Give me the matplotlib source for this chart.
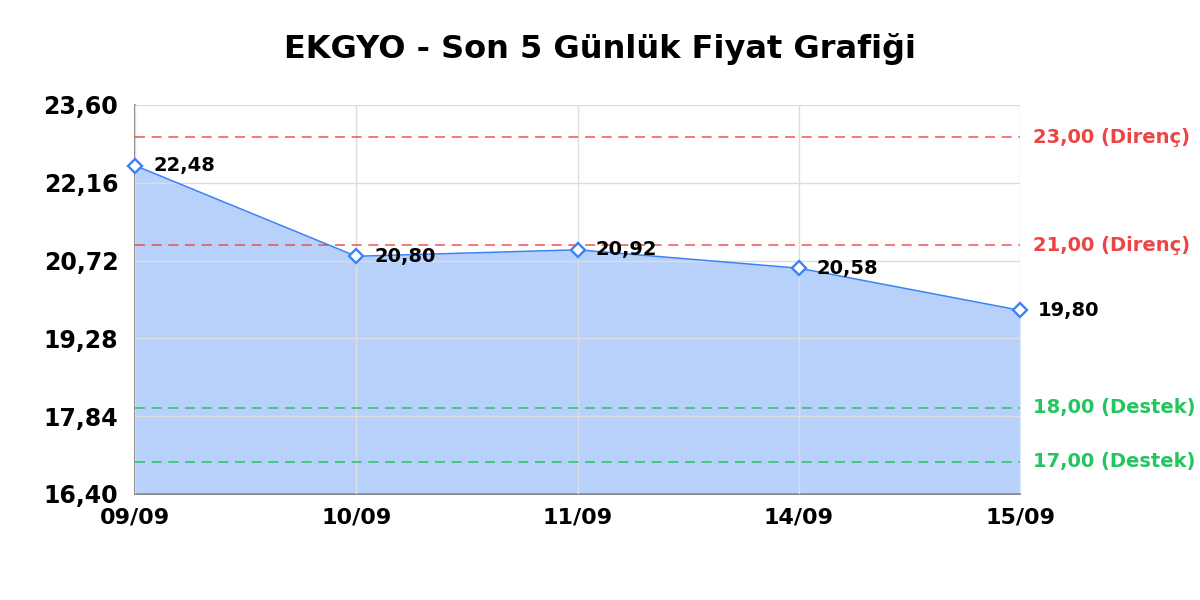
import matplotlib.pyplot as plt

plt.rcParams["font.family"] = ["DejaVu Sans"]

# Chart data
dates = ["09/09", "10/09", "11/09", "14/09", "15/09"]
prices = [22.48, 20.80, 20.92, 20.58, 19.80]
resistance = [23.00, 21.00]
support = [18.00, 17.00]
y_ticks = [16.40, 17.84, 19.28, 20.72, 22.16, 23.60]


def fmt(v):
    return f"{v:.2f}".replace(".", ",")


fig = plt.figure(figsize=(12, 6), dpi=100)
ax = fig.add_axes([0.1125, 0.1767, 0.7375, 0.6483])

x = list(range(len(dates)))
ax.fill_between(x, prices, y_ticks[0], color="#3b82f6", alpha=0.36, linewidth=0, zorder=1)
ax.plot(x, prices, color="#3b82f6", linewidth=1.1, marker="D", markersize=7,
        markerfacecolor="white", markeredgecolor="#3b82f6", markeredgewidth=1.7,
        zorder=4, clip_on=False)

for xi, p in zip(x, prices):
    ax.annotate(fmt(p), (xi, p), xytext=(13, 0), textcoords="offset points",
                va="center", ha="left", fontsize=14, fontweight="bold", zorder=5)

for r in resistance:
    ax.axhline(r, color="#ef4444", linestyle=(0, (6, 4)), linewidth=1.2, alpha=0.85, zorder=3)
    ax.text(1.015, r, f"{fmt(r)} (Direnç)", transform=ax.get_yaxis_transform(),
            color="#ef4444", fontsize=14, fontweight="bold", va="center", ha="left")
for s in support:
    ax.axhline(s, color="#22c55e", linestyle=(0, (6, 4)), linewidth=1.2, alpha=0.9, zorder=3)
    ax.text(1.015, s, f"{fmt(s)} (Destek)", transform=ax.get_yaxis_transform(),
            color="#22c55e", fontsize=14, fontweight="bold", va="center", ha="left")

ax.set_xlim(0, len(dates) - 1)
ax.set_ylim(y_ticks[0], y_ticks[-1])
ax.set_xticks(x)
ax.set_xticklabels(dates, fontsize=16, fontweight="bold")
ax.set_yticks(y_ticks)
ax.set_yticklabels([fmt(t) for t in y_ticks], fontsize=17, fontweight="bold")
ax.tick_params(axis="y", length=0, pad=12)
ax.tick_params(axis="x", length=0, pad=10)

ax.grid(True, color="#dddddd", linewidth=1, zorder=2)
ax.set_axisbelow(False)
for side in ["top", "right"]:
    ax.spines[side].set_visible(False)
for side in ["left", "bottom"]:
    ax.spines[side].set_color("#777777")
    ax.spines[side].set_linewidth(1.2)

fig.suptitle("EKGYO - Son 5 Günlük Fiyat Grafiği", fontsize=23, fontweight="bold", y=0.945)

plt.savefig("out.png", dpi=100)
plt.close()
